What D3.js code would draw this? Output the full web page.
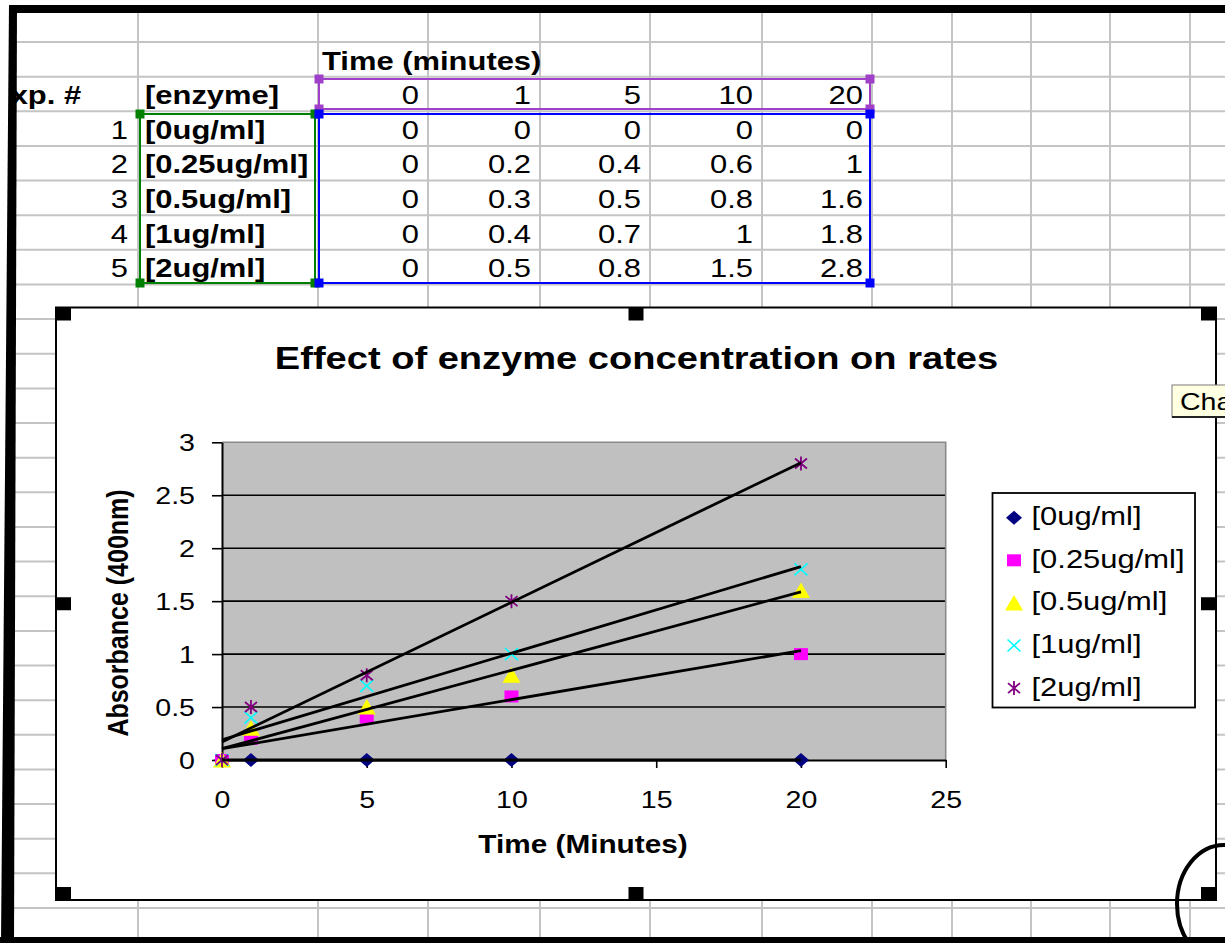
<!DOCTYPE html>
<html><head><meta charset="utf-8">
<script src="https://cdn.jsdelivr.net/npm/d3@7"></script>
<style>
body{margin:0;background:#fff}
svg{display:block}
text{font-family:"Liberation Sans",Arial,Helvetica,sans-serif}
</style>
</head><body>
<svg id="c" width="1225" height="943"></svg>
<script>
// ---------------- DATA ----------------
const times = [0, 1, 5, 10, 20];
const expNumbers = [1, 2, 3, 4, 5];
const seriesNames = ["[0ug/ml]", "[0.25ug/ml]", "[0.5ug/ml]", "[1ug/ml]", "[2ug/ml]"];
const s0ug = [0, 0, 0, 0, 0];
const s025ug = [0, 0.2, 0.4, 0.6, 1];
const s05ug = [0, 0.3, 0.5, 0.8, 1.6];
const s1ug = [0, 0.4, 0.7, 1, 1.8];
const s2ug = [0, 0.5, 0.8, 1.5, 2.8];
const seriesValues = [s0ug, s025ug, s05ug, s1ug, s2ug];
const yTicks = [0, 0.5, 1, 1.5, 2, 2.5, 3];
const xTicks = [0, 5, 10, 15, 20, 25];
const chartTitle = "Effect of enzyme concentration on rates";
const xTitle = "Time (Minutes)";
const yTitle = "Absorbance (400nm)";
const tableTitle = "Time (minutes)";
const headExp = "Exp. #";
const headEnzyme = "[enzyme]";
const tooltipText = "Cha";

// ---------------- STYLE ----------------
const SX = 1.19; // horizontal stretch of the screenshot
const colors = ["#000080", "#FF00FF", "#FFFF00", "#00FFFF", "#800080"];
const shapes = ["diamond", "square", "triangle", "x", "star"];
const FONT = '"Liberation Sans",Arial,sans-serif';

const svg = d3.select("#c");
svg.append("rect").attr("width", 1225).attr("height", 943).attr("fill", "#fff");

function label(parent, x, y, str, o = {}) {
  const g = parent.append("g")
    .attr("transform", `translate(${x},${y}) scale(${SX},1)` + (o.rotate ? " rotate(-90)" : ""));
  return g.append("text")
    .attr("x", 0).attr("y", 0)
    .attr("font-size", o.size || 26)
    .attr("font-weight", o.weight || "normal")
    .attr("text-anchor", o.anchor || "start")
    .attr("fill", o.fill || "#000")
    .text(str);
}

// ---------------- SPREADSHEET ----------------
const colEdges = [138, 318, 428, 540, 650, 762, 872, 952, 1031, 1110, 1190];
const rowTop0 = 42, rowH = 34.64;
const rowY = k => rowTop0 + k * rowH;

const sheet = svg.append("g");
const grid = sheet.append("g").attr("stroke", "#c4c4c4").attr("stroke-width", 2);
colEdges.forEach(x => grid.append("line").attr("x1", x).attr("x2", x).attr("y1", 13).attr("y2", 937));
d3.range(0, 26).forEach(k => grid.append("line").attr("x1", 14).attr("x2", 1225).attr("y1", rowY(k)).attr("y2", rowY(k)));

const tx = sheet.append("g");
const base = k => rowY(k) + 27.5;
label(tx, 322, base(0), tableTitle, {weight: "bold"});
label(tx, -10, base(1), headExp, {weight: "bold"});
label(tx, 145, base(1), headEnzyme, {weight: "bold"});
const numRight = colEdges.slice(1, 6).map(e => e + (colEdges[colEdges.indexOf(e)+1] - e) - 9);
times.forEach((t, i) => label(tx, colEdges[i + 2] - 9, base(1), String(t), {anchor: "end"}));
seriesNames.forEach((nm, r) => {
  label(tx, 128, base(r + 2), String(expNumbers[r]), {anchor: "end"});
  label(tx, 145, base(r + 2), nm, {weight: "bold"});
  seriesValues[r].forEach((v, i) => label(tx, colEdges[i + 2] - 9, base(r + 2), String(v), {anchor: "end"}));
});

// selection rectangles
function selRect(x1, y1, x2, y2, color) {
  sheet.append("rect").attr("x", x1).attr("y", y1).attr("width", x2 - x1).attr("height", y2 - y1)
    .attr("fill", "none").attr("stroke", color).attr("stroke-width", 2);
  [[x1, y1], [x2, y1], [x1, y2], [x2, y2]].forEach(([hx, hy]) =>
    sheet.append("rect").attr("x", hx - 4.5).attr("y", hy - 4.5).attr("width", 9).attr("height", 9).attr("fill", color));
}
selRect(319, 79, 870, 109, "#A040C8");
selRect(140, 114, 315, 283, "#008000");
selRect(319, 114, 870, 283, "#0000FF");

// ---------------- CHART ----------------
const cL = 56, cR = 1216, cT = 307.5, cB = 900;
const chart = svg.append("g");
chart.append("rect").attr("x", cL).attr("y", cT).attr("width", cR - cL).attr("height", cB - cT)
  .attr("fill", "#fff").attr("stroke", "#000").attr("stroke-width", 2);

const pL = 222, pR = 945.7, pT = 442.3, pB = 760;
const x = d3.scaleLinear().domain([0, 25]).range([pL, pR]);
const y = d3.scaleLinear().domain([0, 3]).range([pB, pT]);

chart.append("rect").attr("x", pL).attr("y", pT).attr("width", pR - pL).attr("height", pB - pT)
  .attr("fill", "#C0C0C0");
// gridlines
chart.append("g").selectAll("line").data(yTicks.filter(d => d > 0 && d < 3)).join("line")
  .attr("x1", pL).attr("x2", pR).attr("y1", d => y(d)).attr("y2", d => y(d))
  .attr("stroke", "#000").attr("stroke-width", 1.6);
// plot border top/right gray
chart.append("path").attr("d", `M${pL},${pT}H${pR}V${pB}`).attr("fill", "none")
  .attr("stroke", "#8a8a8a").attr("stroke-width", 1.6);

// axes
const yAxis = chart.append("g").attr("transform", `translate(${pL},0)`)
  .call(d3.axisLeft(y).tickValues(yTicks).tickSize(10).tickSizeOuter(0).tickFormat(d => String(d)));
const xAxis = chart.append("g").attr("transform", `translate(0,${pB})`)
  .call(d3.axisBottom(x).tickValues(xTicks).tickSize(8).tickSizeOuter(0).tickFormat(d => String(d)));
[yAxis, xAxis].forEach(a => {
  a.select(".domain").attr("stroke", "#000").attr("stroke-width", 2);
  a.selectAll(".tick line").attr("stroke", "#000").attr("stroke-width", 1.6);
  a.selectAll(".tick text").attr("font-family", FONT).attr("font-size", 24).attr("fill", "#000");
});
yAxis.selectAll(".tick text").attr("x", -27 / SX).attr("dy", "0.36em").attr("transform", `scale(${SX},1)`);
xAxis.selectAll(".tick text").attr("y", 48).attr("dy", 0).attr("transform", `scale(${SX},1)`);

// markers
function marker(g, shape, color, cx, cy) {
  const m = g.append("g").attr("transform", `translate(${cx},${cy})`);
  if (shape === "diamond") m.append("path").attr("d", "M0,-7L8,0L0,7L-8,0Z").attr("fill", color);
  else if (shape === "square") m.append("rect").attr("x", -7).attr("y", -6).attr("width", 14).attr("height", 12).attr("fill", color);
  else if (shape === "triangle") m.append("path").attr("d", "M0,-8L9,7.5L-9,7.5Z").attr("fill", color);
  else if (shape === "x") m.append("path").attr("d", "M-6.5,-6L6.5,6M-6.5,6L6.5,-6").attr("stroke", color).attr("stroke-width", 1.6).attr("fill", "none");
  else if (shape === "star") m.append("path").attr("d", "M-6,-5L6,5M-6,5L6,-5M0,-7L0,7").attr("stroke", color).attr("stroke-width", 1.8).attr("fill", "none");
}
const mk = chart.append("g");
seriesValues.forEach((vals, si) => {
  vals.forEach((v, i) => marker(mk, shapes[si], colors[si], x(times[i]), y(v)));
});

// linear trendlines (least squares)
function linfit(xs, ys) {
  const mx = d3.mean(xs), my = d3.mean(ys);
  const sxy = d3.sum(xs, (xv, i) => (xv - mx) * (ys[i] - my));
  const sxx = d3.sum(xs, xv => (xv - mx) ** 2);
  const b = sxy / sxx;
  return {a: my - b * mx, b};
}
const t0 = d3.min(times), t1 = d3.max(times);
const line = d3.line().x(d => x(d[0])).y(d => y(d[1]));
seriesValues.forEach(vals => {
  const f = linfit(times, vals);
  chart.append("path").attr("d", line([[t0, f.a + f.b * t0], [t1, f.a + f.b * t1]]))
    .attr("stroke", "#000").attr("stroke-width", 2.8).attr("fill", "none");
});

// titles
label(chart, 636.5, 369, chartTitle, {size: 32, weight: "bold", anchor: "middle"});
label(chart, 583, 853, xTitle, {size: 25, weight: "bold", anchor: "middle"});
label(chart, 128, 613, yTitle, {size: 25, weight: "bold", anchor: "middle", rotate: true});

// legend
const lg = chart.append("g");
lg.append("rect").attr("x", 992.5).attr("y", 493).attr("width", 202.5).attr("height", 214.5)
  .attr("fill", "#fff").attr("stroke", "#000").attr("stroke-width", 1.8);
seriesNames.forEach((nm, i) => {
  const cy = 517.7 + i * 42.6;
  marker(lg, shapes[i], colors[i], 1014, cy);
  label(lg, 1031.5, cy + 7.5, nm, {size: 26});
});

// chart handles
const hw = 15, hh = 13;
[cL, (cL + cR) / 2 - hw / 2, cR - hw].forEach((hx, ix) => {
  [cT, (cT + cB) / 2 - hh / 2, cB - hh].forEach((hy, iy) => {
    if (ix === 1 && iy === 1) return;
    chart.append("rect").attr("x", hx).attr("y", hy).attr("width", hw).attr("height", hh).attr("fill", "#000");
  });
});

// tooltip
const tt = svg.append("g");
tt.append("rect").attr("x", 1172).attr("y", 385).attr("width", 70).attr("height", 32)
  .attr("fill", "#FFFFE1").attr("stroke", "#7a7a7a").attr("stroke-width", 1);
tt.append("line").attr("x1", 1172).attr("x2", 1225).attr("y1", 417).attr("y2", 417).attr("stroke", "#222").attr("stroke-width", 2);
label(tt, 1180, 410, tooltipText, {size: 24});

// outer frame
svg.append("rect").attr("x", 0).attr("y", 0).attr("width", 9).attr("height", 943).attr("fill", "#fff");
svg.append("rect").attr("x", 0).attr("y", 0).attr("width", 1225).attr("height", 5).attr("fill", "#fff");
svg.append("polygon").attr("points", "9,5 17,5 14,943 1,943").attr("fill", "#000");
svg.append("rect").attr("x", 9).attr("y", 5).attr("width", 1216).attr("height", 8).attr("fill", "#000");
svg.append("rect").attr("x", 0).attr("y", 937).attr("width", 1225).attr("height", 6).attr("fill", "#000");
// hand-drawn ellipse
svg.append("ellipse").attr("cx", 1224).attr("cy", 904).attr("rx", 47).attr("ry", 59)
  .attr("fill", "none").attr("stroke", "#000").attr("stroke-width", 4);
</script>
</body></html>
